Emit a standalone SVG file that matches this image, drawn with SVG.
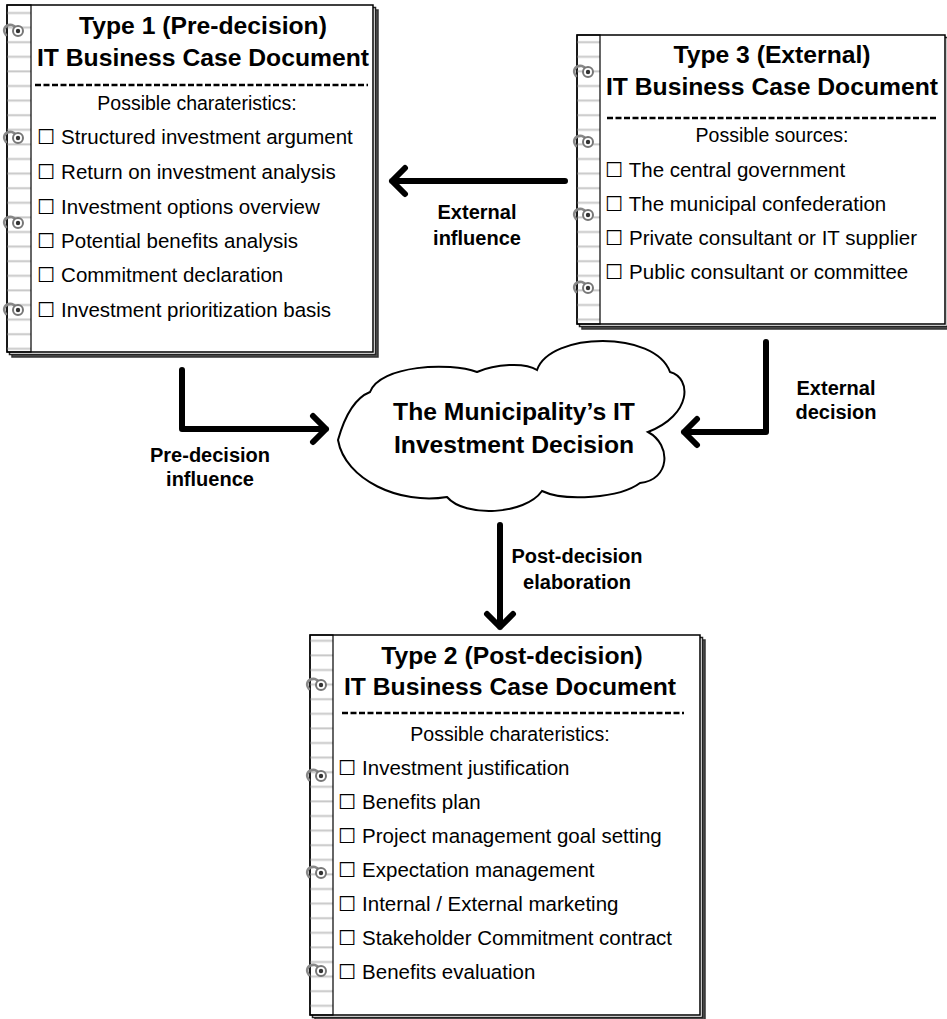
<svg xmlns="http://www.w3.org/2000/svg" width="947" height="1019" viewBox="0 0 947 1019">
<style>
.pg{fill:#fff;stroke:#000;stroke-width:1.5}
.sh1{fill:#fff;stroke:#222;stroke-width:1.5}
.sh2{fill:#555;stroke:#333;stroke-width:1.5}
.bl{stroke:#c8c8c8;stroke-width:2}
.dash{stroke:#000;stroke-width:2.5;stroke-dasharray:6 2.5}
.t{font-family:"Liberation Sans",Arial,sans-serif;font-weight:bold;fill:#000;text-anchor:middle;font-size:24.7px}
.i{font-family:"Liberation Sans",Arial,"DejaVu Sans",sans-serif;fill:#000;font-size:20.5px}
.c{font-family:"Liberation Sans",Arial,sans-serif;fill:#000;text-anchor:middle;font-size:19.5px}
.lab{font-family:"Liberation Sans",Arial,sans-serif;font-weight:bold;font-size:20px;fill:#000;text-anchor:middle}
.arr{fill:none;stroke:#000;stroke-width:6;stroke-linecap:round;stroke-linejoin:round}
.ring{fill:none;stroke:#888;stroke-width:2.6;stroke-linecap:round}
.ringc{fill:#fff;stroke:#777;stroke-width:2}
</style>
<defs>
<g id="ring">
<path class="ring" d="M3,5 C-1,0 2,-6 9,-5 C13,-4 14,0 12,3"/>
<circle class="ringc" cx="15" cy="1" r="5"/>
<circle cx="15" cy="1" r="2.2" fill="#333"/>
</g>
<pattern id="lines" x="0" y="0" width="24" height="14.6" patternUnits="userSpaceOnUse">
<line x1="0" y1="13" x2="24" y2="13" class="bl"/>
</pattern>
</defs>

<g id="type1">
<rect class="sh2" x="12" y="10" width="366" height="347"/>
<rect class="sh1" x="9.5" y="7.5" width="366" height="347"/>
<rect class="pg" x="7" y="5" width="366" height="347"/>
<rect x="7" y="5" width="24" height="347" fill="url(#lines)"/>
<rect x="7" y="5" width="24" height="347" fill="none" stroke="#000" stroke-width="1.2"/>
<use href="#ring" x="3" y="30"/>
<use href="#ring" x="3" y="137"/>
<use href="#ring" x="3" y="222"/>
<use href="#ring" x="3" y="309"/>
<text class="t" x="203" y="34">Type 1 (Pre-decision)</text>
<text class="t" x="203" y="66">IT Business Case Document</text>
<line class="dash" x1="35" y1="85" x2="368" y2="85"/>
<text class="c" x="197" y="110">Possible charateristics:</text>
<text class="i" x="37" y="144">☐ Structured investment argument</text>
<text class="i" x="37" y="179">☐ Return on investment analysis</text>
<text class="i" x="37" y="214">☐ Investment options overview</text>
<text class="i" x="37" y="248">☐ Potential benefits analysis</text>
<text class="i" x="37" y="282">☐ Commitment declaration</text>
<text class="i" x="37" y="317">☐ Investment prioritization basis</text>
</g>

<g id="type3">
<rect class="sh2" x="582" y="40" width="368" height="289"/>
<rect class="sh1" x="579.5" y="37.5" width="368" height="289"/>
<rect class="pg" x="577" y="35" width="368" height="289"/>
<rect x="577" y="35" width="23" height="289" fill="url(#lines)"/>
<rect x="577" y="35" width="23" height="289" fill="none" stroke="#000" stroke-width="1.2"/>
<use href="#ring" x="573" y="71"/>
<use href="#ring" x="573" y="141"/>
<use href="#ring" x="573" y="214"/>
<use href="#ring" x="573" y="287"/>
<text class="t" x="772" y="63">Type 3 (External)</text>
<text class="t" x="772" y="95">IT Business Case Document</text>
<line class="dash" x1="607" y1="118" x2="937" y2="118"/>
<text class="c" x="772" y="142">Possible sources:</text>
<text class="i" x="605" y="177">☐ The central government</text>
<text class="i" x="605" y="211">☐ The municipal confederation</text>
<text class="i" x="605" y="245">☐ Private consultant or IT supplier</text>
<text class="i" x="605" y="279">☐ Public consultant or committee</text>
</g>

<g id="type2">
<rect class="sh2" x="315" y="640" width="390" height="380"/>
<rect class="sh1" x="312.5" y="637.5" width="390" height="380"/>
<rect class="pg" x="310" y="635" width="390" height="380"/>
<rect x="310" y="635" width="23" height="380" fill="url(#lines)"/>
<rect x="310" y="635" width="23" height="380" fill="none" stroke="#000" stroke-width="1.2"/>
<use href="#ring" x="306" y="684"/>
<use href="#ring" x="306" y="775"/>
<use href="#ring" x="306" y="872"/>
<use href="#ring" x="306" y="970"/>
<text class="t" x="512" y="664">Type 2 (Post-decision)</text>
<text class="t" x="510" y="695">IT Business Case Document</text>
<line class="dash" x1="342" y1="713" x2="684" y2="713"/>
<text class="c" x="510" y="741">Possible charateristics:</text>
<text class="i" x="338" y="775">☐ Investment justification</text>
<text class="i" x="338" y="809">☐ Benefits plan</text>
<text class="i" x="338" y="843">☐ Project management goal setting</text>
<text class="i" x="338" y="877">☐ Expectation management</text>
<text class="i" x="338" y="911">☐ Internal / External marketing</text>
<text class="i" x="338" y="945">☐ Stakeholder Commitment contract</text>
<text class="i" x="338" y="979">☐ Benefits evaluation</text>
</g>

<g id="decision">
<path fill="#fff" stroke="#000" stroke-width="2" d="M370,392 C380,365 450,362 477,372 C495,364 525,362 537,370 C550,332 655,330 670,372 C692,378 692,415 648,432 C672,445 670,480 640,483 C620,498 565,502 542,491 C525,515 465,518 447,497 C400,505 345,480 338,440 C345,415 355,398 370,392 Z"/>
<text class="t" x="514" y="420" font-size="24">The Municipality’s IT</text>
<text class="t" x="514" y="453" font-size="24">Investment Decision</text>
</g>

<g id="connectors">
<path class="arr" d="M565,181 H392 M405,168 L392,181 L405,194"/>
<path class="arr" d="M182,370 V429 H326 M313,416 L326,429 L313,442"/>
<path class="arr" d="M766,342 V432 H684 M697,419 L684,432 L697,445"/>
<path class="arr" d="M500,525 V627 M487,614 L500,627 L513,614"/>
<text class="lab" x="477" y="219">External</text>
<text class="lab" x="477" y="245">influence</text>
<text class="lab" x="210" y="462">Pre-decision</text>
<text class="lab" x="210" y="486">influence</text>
<text class="lab" x="836" y="395">External</text>
<text class="lab" x="836" y="419">decision</text>
<text class="lab" x="577" y="563">Post-decision</text>
<text class="lab" x="577" y="589">elaboration</text>
</g>
</svg>
